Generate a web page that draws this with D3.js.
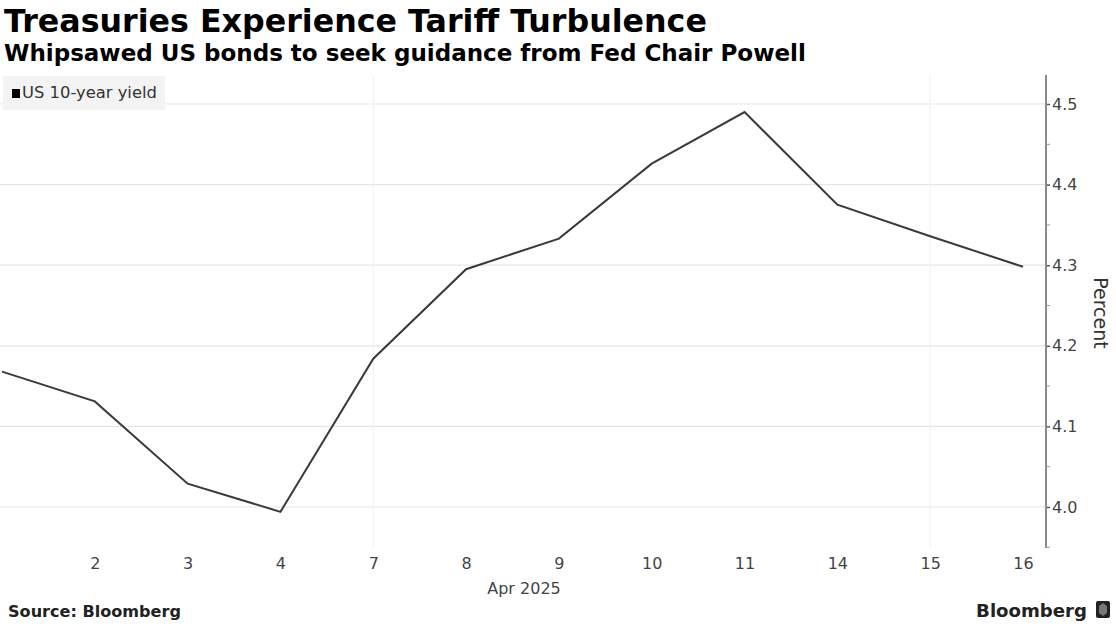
<!DOCTYPE html>
<html><head><meta charset="utf-8">
<script src="https://cdn.jsdelivr.net/npm/d3@7"></script>
<style>
html,body{margin:0;padding:0;background:#fff;}
svg{display:block;}
text{font-family:"DejaVu Sans",Verdana,sans-serif;}
</style></head>
<body>
<svg id="c" width="1116" height="630"></svg>
<script>
const dates = ["2","3","4","7","8","9","10","11","14","15","16"];
const categories = ["1","2","3","4","7","8","9","10","11","14","15","16"];
const yields = [4.168, 4.131, 4.029, 3.994, 4.184, 4.295, 4.333, 4.426, 4.490, 4.375, 4.336, 4.298];
const yTicks = [4.0, 4.1, 4.2, 4.3, 4.4, 4.5];
const yMinorTicks = [3.95, 4.05, 4.15, 4.25, 4.35, 4.45];
const vGrid = ["7", "15"];
const seriesName = "US 10-year yield";

const svg = d3.select("#c");
const x = d3.scalePoint().domain(categories).range([2, 1023]);
const y = d3.scaleLinear().domain([4.0, 4.5]).range([507, 104]);
const axisX = 1046, plotTop = 75, plotBottom = 548;

function fit(sel, w) {
  const n = sel.node(); const fs = parseFloat(sel.attr("font-size"));
  const cur = n.getComputedTextLength();
  sel.attr("font-size", fs * w / cur);
}

// title
fit(svg.append("text").attr("x", 4).attr("y", 32).attr("font-size", 28).attr("font-weight", "bold")
  .attr("fill", "#000").text("Treasuries Experience Tariff Turbulence"), 703);
fit(svg.append("text").attr("x", 4).attr("y", 61).attr("font-size", 19).attr("font-weight", "bold")
  .attr("fill", "#000").text("Whipsawed US bonds to seek guidance from Fed Chair Powell"), 802);

// gridlines
svg.append("g").selectAll("line").data(yTicks).join("line")
  .attr("x1", 0).attr("x2", axisX).attr("y1", d => y(d)).attr("y2", d => y(d))
  .attr("stroke", "#e6e6e6").attr("stroke-width", 1.2);
svg.append("g").selectAll("line").data(vGrid).join("line")
  .attr("x1", d => x(d)).attr("x2", d => x(d)).attr("y1", plotTop).attr("y2", plotBottom)
  .attr("stroke", "#f0f0f0").attr("stroke-width", 1);

// legend
svg.append("rect").attr("x", 3).attr("y", 76).attr("width", 162).attr("height", 34).attr("fill", "#f3f3f3");
svg.append("rect").attr("x", 12).attr("y", 89).attr("width", 8).attr("height", 9).attr("fill", "#000");
fit(svg.append("text").attr("x", 22).attr("y", 98).attr("font-size", 13).attr("fill", "#333")
  .attr("font-family", "DejaVu Sans Condensed").text(seriesName), 135);

// line
const line = d3.line().x((d, i) => x(categories[i])).y(d => y(d));
svg.append("path").datum(yields).attr("d", line).attr("fill", "none")
  .attr("stroke", "#3a3a3a").attr("stroke-width", 2).attr("stroke-linejoin", "miter");

// y axis
const yAxis = d3.axisRight(y).tickValues(yTicks).tickFormat(d3.format(".1f")).tickSize(4).tickPadding(2);
const gy = svg.append("g").attr("transform", `translate(${axisX},0)`).call(yAxis);
gy.select(".domain").remove();
gy.selectAll(".tick line").attr("stroke", "#555").attr("stroke-width", 1.5);
gy.selectAll(".tick text").attr("font-size", 16).attr("fill", "#444")
  .attr("font-family", "DejaVu Sans Condensed");
svg.append("line").attr("x1", axisX).attr("x2", axisX).attr("y1", plotTop).attr("y2", plotBottom)
  .attr("stroke", "#8a8a8a").attr("stroke-width", 2);
svg.append("g").selectAll("line").data(yMinorTicks).join("line")
  .attr("x1", axisX).attr("x2", axisX + 4).attr("y1", d => y(d)).attr("y2", d => y(d))
  .attr("stroke", "#999").attr("stroke-width", 1);
svg.append("text").attr("transform", `translate(1094,313) rotate(90)`).attr("text-anchor", "middle")
  .attr("font-size", 19).attr("fill", "#333").text("Percent");

// x axis
const xAxis = d3.axisBottom(x).tickValues(dates).tickSize(0).tickPadding(0);
const gx = svg.append("g").attr("transform", `translate(0,555)`).call(xAxis);
gx.select(".domain").remove();
gx.selectAll(".tick text").attr("font-size", 16).attr("fill", "#444").attr("dy", "0.9em")
  .attr("font-family", "DejaVu Sans Condensed");
svg.append("text").attr("x", 524).attr("y", 594).attr("text-anchor", "middle").attr("font-size", 16)
  .attr("fill", "#444").attr("font-family", "DejaVu Sans Condensed").text("Apr 2025");

// footer
fit(svg.append("text").attr("x", 8).attr("y", 617).attr("font-size", 13).attr("font-weight", "bold")
  .attr("fill", "#222").text("Source: Bloomberg"), 173);
const bb = svg.append("text").attr("x", 1087).attr("y", 617).attr("text-anchor", "end").attr("font-size", 18)
  .attr("font-weight", "bold").attr("fill", "#222").attr("font-family", "DejaVu Sans Condensed").text("Bloomberg");
fit(bb, 111);
svg.append("rect").attr("x", 1096).attr("y", 601).attr("width", 14).attr("height", 17).attr("rx", 2).attr("fill", "#222");
svg.append("path").attr("d", "M1099,606 L1103,603 L1107,606 L1107,613 L1103,616 L1099,613 Z").attr("fill", "#777");
</script>
</body></html>
